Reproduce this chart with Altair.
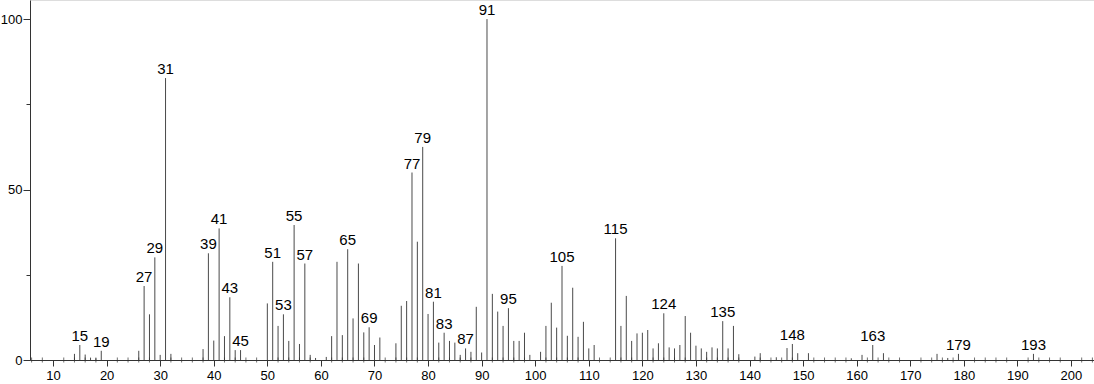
import altair as alt
import pandas as pd

mz = [14, 15, 16, 17, 18, 19,
      26, 27, 28, 29, 30, 31, 32,
      38, 39, 40, 41, 42, 43, 44, 45,
      50, 51, 52, 53, 54, 55, 56, 57, 58, 59, 61,
      62, 63, 64, 65, 66, 67, 68, 69, 70, 71,
      74, 75, 76, 77, 78, 79, 80, 81, 82, 83, 84, 85, 86, 87, 88, 89, 90, 91,
      92, 93, 94, 95, 96, 97, 98, 99, 101, 102, 103, 104, 105, 106, 107, 108, 109, 110, 111,
      115, 116, 117, 118, 119, 120, 121, 122, 123, 124, 125, 126, 127, 128, 129, 130, 131,
      132, 133, 134, 135, 136, 137, 138,
      141, 142, 145, 147, 148, 149, 151, 159, 161, 163, 165, 175, 177, 179, 193]
intensity = [1.8, 4.4, 1.6, 0.7, 0.5, 2.7,
             2.7, 21.7, 13.4, 30.1, 1.5, 82.7, 1.8,
             3.2, 31.3, 5.7, 38.6, 7.0, 18.4, 2.9, 2.9,
             16.6, 28.8, 10.0, 13.4, 5.6, 39.6, 4.7, 28.3, 1.5, 0.6, 0.9,
             7.0, 28.8, 7.3, 32.5, 12.2, 28.3, 8.1, 9.6, 4.4, 6.6,
             4.9, 15.9, 17.3, 55.0, 34.7, 62.5, 13.5, 17.1, 5.1, 8.0, 5.6, 5.1, 1.5, 3.4, 2.4, 15.6, 2.2, 100.0,
             19.4, 14.2, 10.0, 15.2, 5.6, 5.6, 8.0, 1.5, 2.4, 10.0, 16.8, 9.5, 27.6, 7.1, 21.2, 6.8, 11.2, 3.4, 4.4,
             35.7, 10.0, 18.8, 5.6, 7.8, 8.0, 8.8, 3.4, 4.9, 13.7, 3.7, 3.4, 4.4, 12.9, 8.0, 4.2, 3.4,
             2.4, 3.7, 3.4, 11.4, 3.4, 10.0, 1.7,
             1.0, 2.0, 0.8, 3.5, 4.7, 2.0, 2.0, 0.5, 1.5, 4.4, 2.0, 1.8, 0.6, 1.8, 1.8]
labeled = [15, 19, 27, 29, 31, 39, 41, 43, 45, 51, 53, 55, 57, 65, 69, 77, 79, 81,
           83, 87, 91, 95, 105, 115, 124, 135, 148, 163, 179, 193]
major_ticks = list(range(10, 201, 10))
minor_ticks = [v for v in range(6, 205, 2) if v % 10 != 0]
y_ticks = [0, 25, 50, 75, 100]

peaks = pd.DataFrame({"mz": mz, "intensity": intensity})
peaks["label"] = peaks["mz"].astype(str)
lab = peaks[peaks["mz"].isin(labeled)]
minor = pd.DataFrame({"m": minor_ticks})

FONT = "Liberation Sans"
xscale = alt.Scale(domain=[5.7, 204.3], nice=False, zero=False)
yscale = alt.Scale(domain=[0, 105.6], nice=False)

xaxis = alt.Axis(values=major_ticks, tickSize=6, labelFontSize=13, labelFont=FONT,
                 labelColor="#000", domainColor="#333", tickColor="#333",
                 grid=False, title=None, labelPadding=3, labelFlush=False)
yaxis = alt.Axis(values=y_ticks, labelExpr="datum.value % 50 == 0 ? datum.label : ''",
                 tickSize={"condition": {"test": "datum.value % 50 == 0", "value": 7}, "value": 4},
                 labelFontSize=13, labelFont=FONT, labelColor="#000",
                 domainColor="#333", tickColor="#333", grid=False, title=None, labelPadding=1)

rules = alt.Chart(peaks).mark_rule(color="#4a4a4a", strokeWidth=1).encode(
    x=alt.X("mz:Q", scale=xscale, axis=xaxis),
    y=alt.Y("intensity:Q", scale=yscale, axis=yaxis),
    y2=alt.datum(0),
)

texts = alt.Chart(lab).mark_text(baseline="bottom", dy=-1, fontSize=15, font=FONT, color="#000").encode(
    x=alt.X("mz:Q", scale=xscale),
    y=alt.Y("intensity:Q", scale=yscale),
    text="label:N",
)

minors = alt.Chart(minor).mark_tick(orient="vertical", size=5, thickness=1, color="#333").encode(
    x=alt.X("m:Q", scale=xscale),
    y=alt.datum(0),
)

chart = alt.layer(rules, minors, texts).properties(
    width=1064, height=360,
    autosize=alt.AutoSizeParams(type="none"),
    padding={"left": 30, "top": 0, "right": 0, "bottom": 24},
).configure_view(stroke=None).configure(background="white")

chart.save("out.html", embed_options={"renderer": "svg", "actions": False})
